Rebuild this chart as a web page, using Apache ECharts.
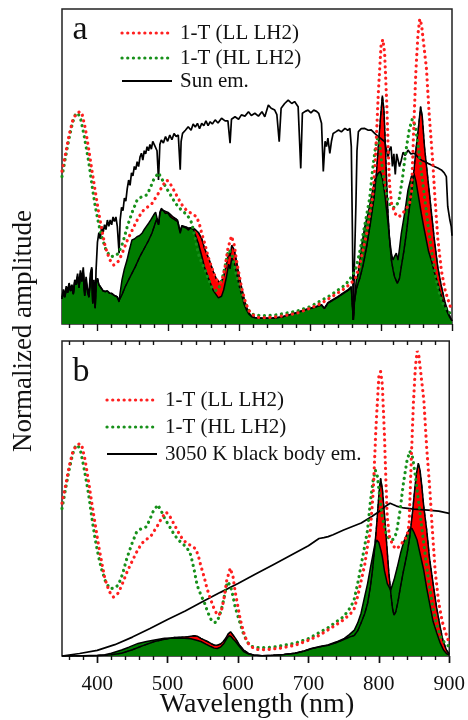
<!DOCTYPE html>
<html>
<head>
<meta charset="utf-8">
<script src="https://cdn.jsdelivr.net/npm/echarts@6/dist/echarts.min.js"></script>
<style>
  html, body { margin: 0; padding: 0; background: #fff; }
  #chart { width: 468px; height: 720px; }
</style>
</head>
<body>
<div id="chart"></div>
<script>
// Wavelength axis ticks (nm)
const majorTicks = [400, 500, 600, 700, 800, 900];
const minorTicks = [360, 380, 420, 440, 460, 480, 520, 540, 560, 580, 620, 640, 660, 680,
                    720, 740, 760, 780, 820, 840, 860, 880];

// 1-T absorption spectra of the two LH2 complexes, [nm, normalized amplitude]
const absLL = [[350,48.5],[355,54],[360,60],[365,64.5],[370,66.8],[375,67.4],[378,67],[383,62],[388,55],[392,49],[397,42],[402,35],[407,29],[411,24.5],[417,20.5],[423,18.7],[430,20],[435,22.5],[442,26.5],[449,29.8],[456,33],[463,35.7],[470,37],[477,38.3],[486,41.5],[492,44],[498,45.7],[504,44],[510,41.5],[516,39],[521,37.2],[527,35.8],[533,35.1],[540,34],[544,31.5],[547,28.8],[552,25],[556,21.4],[561,18],[566,15],[570,13.3],[573,12.9],[577,15],[580,18.2],[584,24],[589,27.9],[593,25],[596,20.3],[600,15.5],[603,11.8],[608,7.5],[613,4.4],[620,2.8],[626,2.1],[640,2],[660,2.5],[681,3.4],[700,5],[715,6.5],[728,8.3],[740,10],[750,11.5],[760,13.5],[765,15],[770,19],[775,24],[780,29],[784,35],[788,40],[792,52],[796,73],[800,88.7],[802.5,90.3],[805,86],[808,70],[810,56],[812,44],[815,38],[820,35],[825,34],[830,35],[835,36.5],[840,38],[843,42],[846,62],[849,80],[852,92],[854.5,96.8],[857,95],[860,89],[864,81],[868,66],[873,51],[876,40],[880,27],[885,17],[890,11],[894,8],[897,6],[900,4]];
const absHL = [[350,46.8],[355,53],[360,59],[365,64],[369,66.5],[372,67],[376,65.5],[381,60],[385,55],[388,51],[393,43],[397,37.2],[402,31.5],[406,27.7],[412,23.5],[418,21.4],[424,21.5],[430,22.5],[436,26],[442,30.9],[449,35.5],[456,39.4],[463,40.5],[470,41],[475,43.5],[479,45.7],[486,48],[491,46],[496,43.6],[503,41],[510,38.3],[517,36.5],[524,35.1],[530,33.5],[533,32],[538,27],[542,22.4],[547,19.5],[552,17.1],[556,14.5],[561,11.8],[566,10.6],[570,10.8],[574,13],[578,16.1],[582,20.5],[585,23.5],[589,22.5],[592,19.8],[596,15.5],[601,11.8],[607,7.5],[613,4.4],[620,3],[630,2.6],[650,2.8],[680,4],[700,5.5],[728,9],[750,12.5],[760,15.5],[765,18],[770,23],[775,29],[780,35],[784,40],[788,49],[792,56],[795,59],[798,57],[801,51],[805,44],[810,39],[815,37],[820,37],[825,39],[830,46],[835,55],[840,62],[844,65],[848,63],[852,57],[857,48],[862,39],[867,30],[872,22],[877,15],[882,10],[888,6],[894,4],[900,3]];

// Solar emission spectrum
const sunEm = [[350,8.5],[352,11],[354,9],[356,12],[358,10.5],[360,13],[362,11],[364,12.5],[366,10],[368,14],[370,13],[372,16],[374,12],[376,17],[378,14],[380,18],[382,10],[384,15],[386,11],[388,9.5],[390,16],[392,18],[393.4,7],[395,14],[396.8,5.5],[398,17],[400,26],[402,29],[404,27],[406,31],[408,29],[410,31.5],[412,30],[414,33],[416,31],[418,33],[420,31.5],[422,34],[424,32.5],[426,34],[428,31],[430.5,22.5],[432,33],[434,37],[436,36],[438,40],[440,39],[442,43],[444,45.7],[446,44],[448,48],[450,47],[452,50],[454,49],[456,51.5],[458,50],[460,53],[462,54.2],[464,52],[466,55],[468,54],[470,56.3],[472,55],[474,57],[476,55.5],[478,58],[480,57],[482,57.5],[484,55],[486.1,45.7],[488,57],[490,58.4],[493,57.5],[496,59.5],[499,58],[502,60],[505,58.5],[508,60.5],[511,59.5],[514,60],[516.7,49],[518,58],[520,60.5],[524,61.5],[528,62.6],[532,61.5],[535,63.5],[538,62.5],[541,63.7],[544,62],[547,63.7],[550,63],[553,64.5],[556,63],[559,64.2],[562,63.5],[566,64.8],[570,63.8],[575,65.3],[580,64.5],[584,64.5],[587,57.4],[589,65],[594,65.8],[599,65],[603,66.4],[608,66],[613,67.4],[617,66.2],[622,66.9],[627,66],[632,67.4],[636,65.8],[641,69.5],[645,68.5],[650,67.9],[653,66.5],[656.3,57.9],[659,68.5],[664,70],[669,71.1],[674,70],[678,70.6],[683,69],[686.7,49.4],[689,66.9],[693,67.5],[697,67.9],[701,67],[705,67.9],[709,67.5],[712,66.9],[716,63.7],[718.5,48.4],[721,58],[723,56.3],[725,59],[727.7,54.2],[730,58],[732.4,60.5],[736,61],[740,61.6],[744,61],[749,62.1],[753,61.5],[756,62.1],[758,56.3],[759.5,30],[760.8,1.3],[762.5,20],[764.5,38],[766,55],[768,61.1],[772,62],[777,62.1],[782,61.5],[786,61.6],[791,60.5],[796,59.5],[800,58.8],[805,57.9],[808,55],[810,53.1],[812,55.5],[814,56.3],[816,50],[818,54],[820,47.5],[822,54],[824,54.2],[826,50],[828.5,52],[831,54.5],[834,53.5],[838,55.2],[842,54],[847,54.2],[852,53],[857,52],[862,51.5],[866,51],[871,50.5],[875,50],[880,49.5],[885,48.9],[889,48],[892,46.8],[894,37.3],[897,33],[899,30.9],[900,28]];

// Sun emission weighted by each absorption
const sunLL = [[350,8],[352,10],[354,8.5],[356,11],[358,10],[360,12],[362,10.5],[364,11.5],[366,9.5],[368,13.5],[370,12.5],[372,15],[374,11.5],[376,16],[378,13.5],[380,16.5],[382,9],[384,13.5],[386,11],[388,8.5],[390,14],[392,17.5],[393.4,6.5],[395,12.5],[396.8,5],[398,13],[400,14.5],[402,12.5],[405,11.5],[408,10.5],[411,10.3],[414,10.5],[417,9.8],[420,9.7],[424,9],[427.6,8.7],[430.5,7.5],[432,8],[435,9.5],[439.3,11.9],[445,14.5],[453.4,18.2],[460,21.5],[467.5,24.6],[472,26.5],[476.8,28.8],[481.5,32],[484,33.5],[486.2,31.5],[488,35],[490,36.3],[493,36],[495.6,35.7],[499,35.5],[502.6,34.8],[506,34.1],[509.7,33.5],[513,33],[516.7,29.3],[519,31.2],[521.4,31.2],[525,30.8],[528.4,30.4],[531,30.8],[533,30.6],[535.5,30.4],[537.8,30],[542.5,29],[547.2,27],[551,24],[556.6,21],[563.6,16.5],[568,14.2],[572,13.3],[575,13.6],[578,15],[582,19],[585,22.5],[587,21.5],[589.4,25],[593,23.5],[596.4,19.5],[600,15],[603.4,11.5],[607,7.8],[610.5,5.2],[614,3.4],[617.5,2.5],[622,2.1],[630,1.9],[645,1.8],[660,2.2],[670,2.9],[680,3.5],[692,4.4],[705,5.2],[716,6],[720,4.9],[725,6.6],[730,7.3],[739,8.5],[746,9.6],[753,10.6],[758,11.5],[759.5,6],[760.8,1.3],[762.5,7],[765,11],[767.6,12.9],[770,14.5],[775,19],[780,25],[785,32],[790,40],[793,47],[796,56],[799,65],[801.8,72.5],[804,68],[806,57],[808,44],[810,34],[812,26.7],[814.5,20.3],[817,17],[819,15],[822.9,12.9],[826,14.5],[828.5,18.2],[832,23],[835.6,28.8],[840.2,37.3],[845,45.7],[849.6,56.3],[852.5,62],[855.7,69],[858,66],[861.3,56],[866,46],[870.7,36],[875,27],[880,18],[885,12],[890,7],[895,3.5],[900,1]];
const sunHL = [[350,8],[352,10],[354,8.5],[356,11],[358,10],[360,12],[362,10.5],[364,11.5],[366,9.5],[368,13.5],[370,12.5],[372,15],[374,11.5],[376,16],[378,13.5],[380,16.5],[382,9],[384,13],[386,10],[388,8.5],[390,14],[392,17.5],[393.4,6.5],[395,12.5],[396.8,5],[398,13],[400,14.5],[402,12.5],[405,11.5],[408,10.5],[411,10.3],[414,10.5],[417,9.8],[420,9.7],[424,9],[427.6,8.7],[430.5,7],[432,10],[434.6,14],[438,17.5],[441.7,20.3],[445,23.5],[448.7,26.7],[452,27],[455.7,27.7],[459,28],[462.8,28.8],[466,30],[469,31],[472.2,32],[475,33],[479.2,34.6],[482,35.5],[484,35],[486.2,31.5],[488,35.5],[490,36.7],[493,36],[495.6,35.1],[499,35.3],[502.6,34.1],[506,33.5],[509.7,33],[513,32.5],[516.7,28.8],[519,31],[521.4,30.9],[525,30.5],[528.4,29.8],[531,30.5],[533,30.9],[535.5,30],[537.8,28.5],[542.5,25.5],[547.2,21.5],[551,18],[556.6,14.5],[563.6,10.5],[570.6,8.3],[575,8.8],[578,10.8],[582,15],[585,19],[587,17.5],[589.4,21],[593,19.5],[596.4,16],[600,12],[603.4,9.3],[607,6.2],[610.5,4.3],[614,3],[617.5,2.3],[622,2],[630,1.8],[645,1.8],[660,2.2],[670,2.9],[680,3.6],[692,4.5],[705,5.3],[716,6.1],[720,5],[725,6.8],[730,7.5],[739,8.7],[746,9.8],[753,10.8],[758,11.9],[759.5,6],[760.8,1.3],[762.5,8],[765,14],[767.6,16],[772.3,24.6],[777,30.9],[781.6,35.1],[786.3,40.4],[791,45.7],[795.7,47.8],[799,48.4],[802,46],[805,41.5],[809.8,32],[812,27],[814.5,22.5],[816.8,20.3],[819,21.5],[821.5,22.5],[823.8,20.3],[826,24],[828.5,28.8],[833.2,35.1],[837.9,42.5],[842.6,46.8],[846.3,47.8],[849,45.5],[852,41.5],[856.7,35.1],[860,31],[863.7,26.7],[867,23],[870.7,20.3],[875,16.5],[880,12.9],[884,9.5],[887,7.6],[891,5],[894,3.4],[897,2],[900,1]];

// 3050 K black body emission
const bbEm = [[350,0],[375,0.8],[400,1.8],[425,3.6],[450,6],[475,8.7],[500,11.6],[525,14.3],[550,17.3],[575,20.2],[600,23],[625,26],[650,29],[675,32],[700,35],[715,37.3],[722,37.6],[728,37.9],[735,38.5],[750,40],[775,42.2],[790,44.3],[800,45.8],[810,47.6],[816,48.5],[825,47.6],[835,47],[850,46.6],[870,46.3],[885,46],[900,45.3]];

// Black body emission weighted by each absorption
const bbLL = [[350,0],[400,0.1],[420,0.4],[434.6,0.9],[450,2],[465,3.3],[481.5,4.6],[495.6,5.3],[509.7,5.9],[520,6],[528.4,6.1],[537.8,6.4],[542,6.3],[547.2,5.6],[556.6,4.6],[562,3.9],[566,3.5],[570,3.4],[575.3,3.8],[579,4.6],[582.4,5.6],[586,7],[589.4,7.7],[592,7.2],[596.4,5.6],[602,3.5],[608,1.9],[615,0.8],[622,0.3],[634,0.1],[650,0.2],[665,0.5],[681,0.9],[694,1.6],[704,2.3],[716,2.9],[727.7,3.4],[740,4.3],[751,5.3],[758,6],[765,6.5],[770,8],[774.6,10.4],[780,13.5],[784,16.7],[788,22],[791,27.3],[794,34],[797,42],[800,51],[802.5,56.4],[805,53],[808,45],[811,36],[814,27],[817,19.9],[819.5,15],[821.5,13],[824,14],[827,17],[830.8,22],[835,27],[840.2,32.6],[844,38],[848,46],[851,53],[853.5,58],[856,61.2],[858.5,59],[861,54],[864,47],[868,40],[872,31],[877.7,22],[882,15.5],[887,9.3],[891,5],[896,1.9],[900,0.6]];
const bbHL = [[350,0],[380,0.1],[400,0.2],[411,0.4],[420,0.9],[434.6,1.9],[445,2.8],[458,4],[470,4.6],[481.5,5.1],[495.6,5.6],[509.7,5.7],[523.7,5.6],[533,5.5],[540,5.1],[547.2,4.6],[555,3.7],[561.2,3],[566,2.5],[570.6,2.4],[575,2.8],[580,4],[584,5.5],[587,6.4],[590,6.2],[593,5.4],[596.4,4.6],[602,3],[608,1.4],[615,0.6],[622,0.3],[634,0.1],[650,0.2],[665,0.5],[681,0.9],[694,1.6],[704,2.4],[716,3],[727.7,3.5],[740,4.5],[751,5.6],[758,6.8],[765.2,8.2],[770,10.5],[774.6,13.5],[779,18],[784,23],[788,28],[791,31.5],[794,35],[797,36.8],[800,36],[803,33.5],[805,31.5],[808,27],[812,23],[816.8,20.9],[821.5,24.1],[826,28],[830.8,32.6],[835,36],[840.2,38.9],[844,40.5],[847,40.5],[850,39.2],[854.3,36.8],[859,32],[863.7,27.3],[868,21.5],[873,15.7],[877,11],[882.4,7.2],[887,4.2],[891.8,1.9],[896,0.8],[900,0.3]];

const legendA = ['1-T (LL LH2)', '1-T (HL LH2)', 'Sun em.'];
const legendB = ['1-T (LL LH2)', '1-T (HL LH2)', '3050 K black body em.'];

const SERIF = '"Liberation Serif", "DejaVu Serif", serif';
const RED = '#ff1f1f';
const GREEN = '#17901a';
const FILL_RED = '#ff0000';
const FILL_GREEN = '#007c00';
const DOTS = [0.1, 5.6];
const DASH = [4, 3];

const chart = echarts.init(document.getElementById('chart'), null, { renderer: 'canvas' });

const grids = [
  { left: 62, top: 9, width: 390, height: 315 },
  { left: 62, top: 341, width: 390, height: 315 }
];

function tickAxis(grid, position, values, length, inside, labels) {
  return {
    type: 'value', gridIndex: grid, position: position, min: 350, max: 900,
    axisLine: { show: false },
    splitLine: { show: false },
    axisTick: { show: true, customValues: values, length: length, inside: inside,
                lineStyle: { color: '#111', width: 1.4 } },
    axisLabel: labels ? { show: true, customValues: majorTicks, margin: 18,
                          fontFamily: SERIF, fontSize: 21, color: '#111' } : { show: false }
  };
}

const xAxes = [
  tickAxis(0, 'bottom', majorTicks, 7, false, false),
  tickAxis(0, 'bottom', minorTicks, 4, false, false),
  tickAxis(1, 'top', majorTicks, 7, true, false),
  tickAxis(1, 'top', minorTicks, 4, true, false),
  tickAxis(1, 'bottom', majorTicks, 7, false, true),
  tickAxis(1, 'bottom', minorTicks, 4, false, false)
];

const yAxes = [0, 1].map(g => ({
  type: 'value', gridIndex: g, min: 0, max: 100, show: false
}));

function areaSeries(name, data, xi, yi, fill) {
  return {
    name: name, type: 'line', data: data, xAxisIndex: xi, yAxisIndex: yi,
    showSymbol: false, symbol: 'none', silent: true, animation: false,
    lineStyle: { color: '#000', width: 1.5 },
    areaStyle: { color: fill, opacity: 1 }
  };
}
function lineSeries(name, data, xi, yi, color, width, type, cap) {
  return {
    name: name, type: 'line', data: data, xAxisIndex: xi, yAxisIndex: yi,
    showSymbol: false, symbol: 'none', silent: true, animation: false,
    lineStyle: { color: color, width: width, type: type, cap: cap || 'butt' }
  };
}

const series = [
  // panel a
  areaSeries('Sun × LL', sunLL, 0, 0, FILL_RED),
  areaSeries('Sun × HL', sunHL, 0, 0, FILL_GREEN),
  lineSeries('Sun × LL dashed', sunLL, 0, 0, '#000', 1.2, DASH),
  lineSeries(legendA[2], sunEm, 0, 0, '#000', 1.7, 'solid'),
  lineSeries(legendA[1], absHL, 0, 0, GREEN, 3.2, DOTS, 'round'),
  lineSeries(legendA[0], absLL, 0, 0, RED, 3.2, DOTS, 'round'),
  // panel b
  areaSeries('BB × LL', bbLL, 4, 1, FILL_RED),
  areaSeries('BB × HL', bbHL, 4, 1, FILL_GREEN),
  lineSeries('BB × LL dashed', bbLL, 4, 1, '#000', 1.2, DASH),
  lineSeries(legendB[2], bbEm, 4, 1, '#000', 1.7, 'solid'),
  lineSeries(legendB[1], absHL, 4, 1, GREEN, 3.2, DOTS, 'round'),
  lineSeries(legendB[0], absLL, 4, 1, RED, 3.2, DOTS, 'round')
];

// Legend rows and panel letters
function legendRows(x0, x1, tx, ys, names) {
  const styles = [
    { stroke: RED, lineWidth: 3.2, lineDash: DOTS, lineCap: 'round' },
    { stroke: GREEN, lineWidth: 3.2, lineDash: DOTS, lineCap: 'round' },
    { stroke: '#000', lineWidth: 1.8 }
  ];
  const out = [];
  names.forEach((n, i) => {
    out.push({ type: 'line', silent: true, shape: { x1: x0, y1: ys[i], x2: x1, y2: ys[i] }, style: styles[i] });
    out.push({ type: 'text', silent: true, x: tx, y: ys[i],
               style: { text: n, font: '21px ' + SERIF, fill: '#111', textAlign: 'left', textVerticalAlign: 'middle' } });
  });
  return out;
}

const graphics = [].concat(
  legendRows(122, 172, 180, [33, 58, 81], legendA),
  legendRows(107, 157, 165, [400, 427, 454], legendB),
  [
    { type: 'text', silent: true, x: 80, y: 30, style: { text: 'a', font: '34px ' + SERIF, fill: '#111', textAlign: 'center', textVerticalAlign: 'middle' } },
    { type: 'text', silent: true, x: 81, y: 372, style: { text: 'b', font: '34px ' + SERIF, fill: '#111', textAlign: 'center', textVerticalAlign: 'middle' } },
    { type: 'text', silent: true, x: 24, y: 331, rotation: Math.PI / 2,
      style: { text: 'Normalized amplitude', font: '27px ' + SERIF, fill: '#111', textAlign: 'center', textVerticalAlign: 'middle' } },
    { type: 'text', silent: true, x: 257, y: 705,
      style: { text: 'Wavelength (nm)', font: '28px ' + SERIF, fill: '#111', textAlign: 'center', textVerticalAlign: 'middle' } }
  ]
);

chart.setOption({
  animation: false,
  backgroundColor: '#fff',
  grid: grids.map(g => Object.assign({ show: true, borderColor: '#222', borderWidth: 1.5, backgroundColor: 'transparent' }, g)),
  xAxis: xAxes,
  yAxis: yAxes,
  series: series,
  graphic: graphics
});
</script>
</body>
</html>
